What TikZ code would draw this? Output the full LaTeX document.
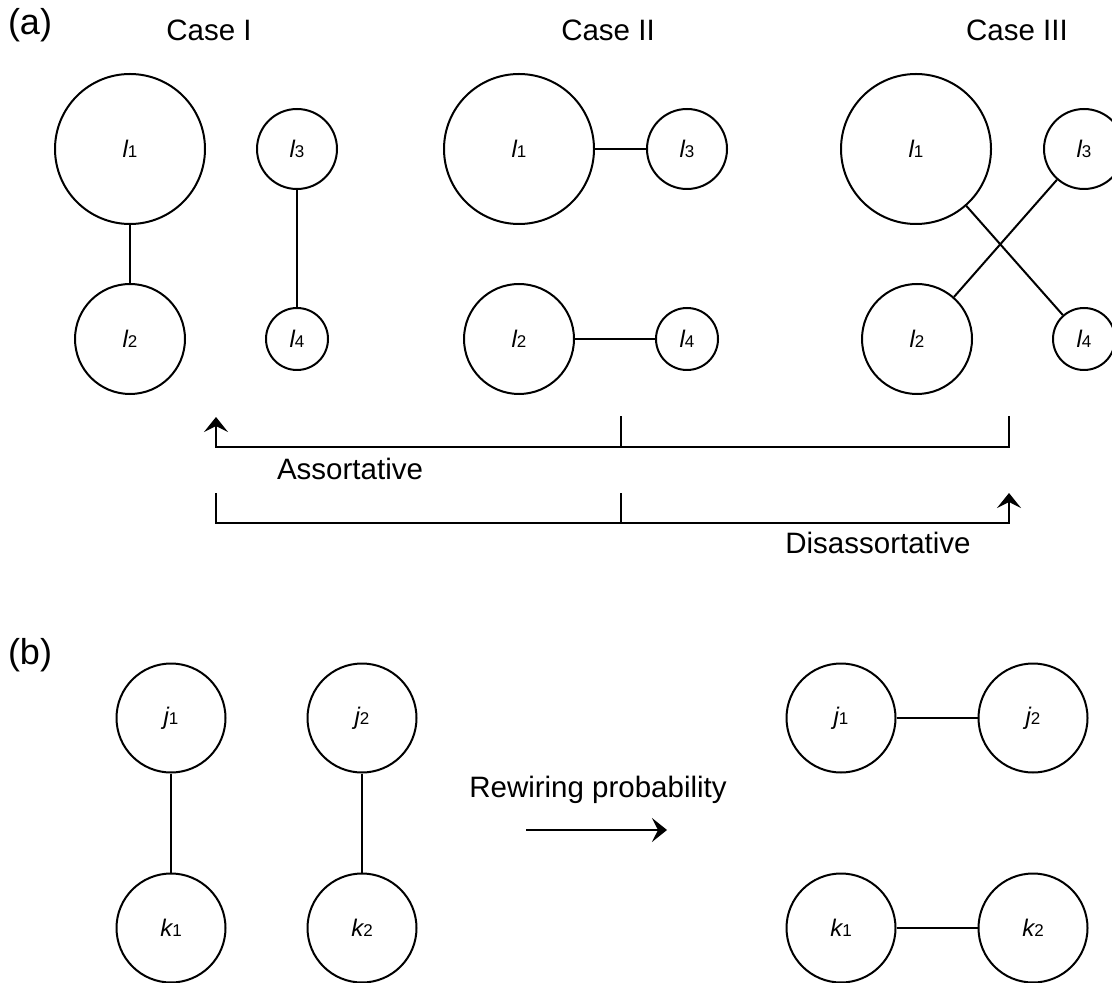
\documentclass[tikz,border=0pt]{standalone}
\usepackage{fontspec}
\setmainfont{Liberation Sans}
\usetikzlibrary{arrows.meta}
\newcommand\vlab[2]{{\fontsize{12}{13}\selectfont\itshape #1}{\fontsize{8.5}{9}\selectfont #2}}
\begin{document}
\begin{tikzpicture}[x=0.5pt,y=-0.5pt,line width=1pt,
  vtx/.style={circle,draw,line width=1pt,inner sep=0pt},
  bigv/.style={vtx,minimum size=75pt},
  midv/.style={vtx,minimum size=55pt},
  smallv/.style={vtx,minimum size=40pt},
  tinyv/.style={vtx,minimum size=31pt},
  bv/.style={vtx,minimum size=54.5pt},
  title/.style={font=\fontsize{14.75}{16}\selectfont,inner sep=0pt,anchor=base},
  panel/.style={font=\fontsize{18}{20}\selectfont,inner sep=0pt,anchor=base},
  tip/.style={-{Stealth[length=7.5pt,width=12pt,inset=3pt]}},
]
\useasboundingbox (0,0) rectangle (1112,983);

% titles
\node[panel] (ta) at (30,35) {(a)};
\node[title] (t1) at (209,41) {Case I};
\node[title] (t2) at (608,41) {Case II};
\node[title] (t3) at (1017,41) {Case III};

% Case I
\node[bigv] (a1) at (130,149) {\vlab{l}{1}};
\node[smallv] (a3) at (297,149) {\vlab{l}{3}};
\node[midv] (a2) at (130,339) {\vlab{l}{2}};
\node[tinyv] (a4) at (297,339) {\vlab{l}{4}};
\draw (a1) -- (a2);
\draw (a3) -- (a4);

% Case II
\node[bigv] (b1) at (519,149) {\vlab{l}{1}};
\node[smallv] (b3) at (687,149) {\vlab{l}{3}};
\node[midv] (b2) at (519,339) {\vlab{l}{2}};
\node[tinyv] (b4) at (687,339) {\vlab{l}{4}};
\draw (b1) -- (b3);
\draw (b2) -- (b4);

% Case III
\node[bigv] (c1) at (916,149) {\vlab{l}{1}};
\node[smallv] (c3) at (1084,149) {\vlab{l}{3}};
\node[midv] (c2) at (917,339) {\vlab{l}{2}};
\node[tinyv] (c4) at (1084,339) {\vlab{l}{4}};
\draw (c1) -- (c4);
\draw (c2) -- (c3);

% brackets
\coordinate (u0) at (216,417);
\coordinate (u1) at (216,447);
\coordinate (um) at (621,447);
\coordinate (umt) at (621,416);
\coordinate (u2) at (1009,447);
\coordinate (u2t) at (1009,416);
\draw[tip] (u2t) -- (u2) -- (u1) -- (u0);
\draw (um) -- (umt);
\node[title] (as) at (350,480) {Assortative};

\coordinate (d0) at (216,493);
\coordinate (d1) at (216,523);
\coordinate (dm) at (621,523);
\coordinate (dmt) at (621,493);
\coordinate (d2) at (1009,523);
\coordinate (d2t) at (1009,493);
\draw[tip] (d0) -- (d1) -- (d2) -- (d2t);
\draw (dm) -- (dmt);
\node[title] (ds) at (878,553) {Disassortative};

% (b)
\node[panel] (tb) at (30,664) {(b)};
\node[bv] (j1) at (171,718) {\vlab{j}{1}};
\node[bv] (k1) at (171,928) {\vlab{k}{1}};
\node[bv] (j2) at (362,718) {\vlab{j}{2}};
\node[bv] (k2) at (362,928) {\vlab{k}{2}};
\draw (j1) -- (k1);
\draw (j2) -- (k2);

\node[title] (rw) at (598,797) {Rewiring probability};
\coordinate (r0) at (526,830);
\coordinate (r1) at (667,830);
\draw[tip] (r0) -- (r1);

\node[bv] (J1) at (841,718) {\vlab{j}{1}};
\node[bv] (J2) at (1033,718) {\vlab{j}{2}};
\node[bv] (K1) at (841,928) {\vlab{k}{1}};
\node[bv] (K2) at (1033,928) {\vlab{k}{2}};
\draw (J1) -- (J2);
\draw (K1) -- (K2);
\end{tikzpicture}
\end{document}
